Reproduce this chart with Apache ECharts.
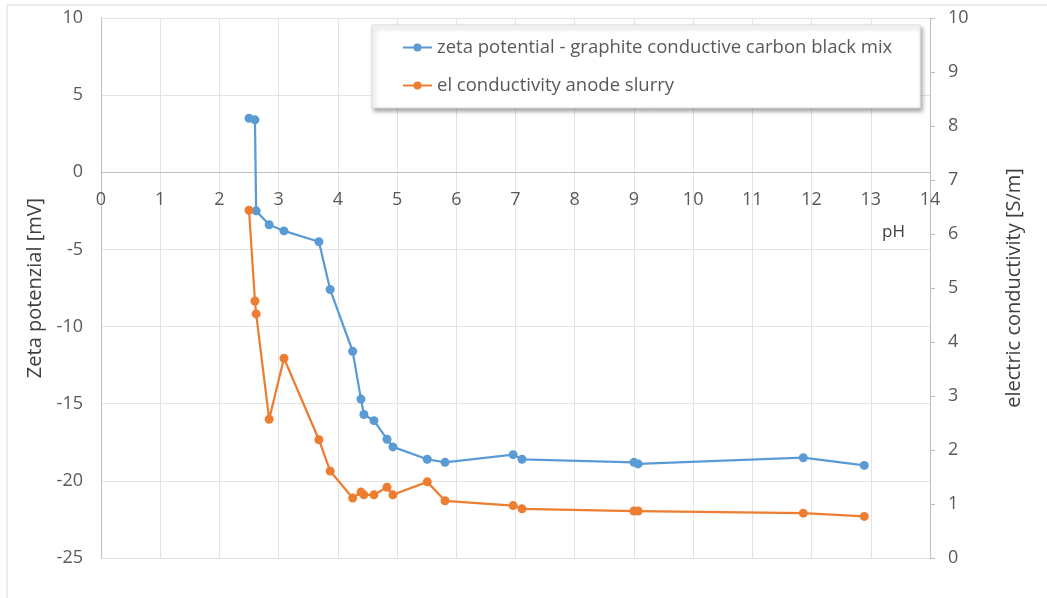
<!DOCTYPE html>
<html lang="en">
<head>
  <meta charset="UTF-8">
  <title>Zeta potential and conductivity vs pH</title>
  <script src="https://cdn.jsdelivr.net/npm/echarts@6/dist/echarts.min.js"></script>
  <style>
    html, body { margin: 0; padding: 0; background: #fff; }
    #chart { width: 1047px; height: 598px; }
  </style>
</head>
<body>
  <div id="chart"></div>
  <script>
    // pH values (shared by both series)
    const pH = [2.50, 2.60, 2.62, 2.84, 3.09, 3.68, 3.87, 4.25, 4.39, 4.44, 4.61,
                4.83, 4.93, 5.51, 5.81, 6.96, 7.11, 9.00, 9.07, 11.86, 12.89];
    // zeta potential [mV]
    const zeta = [3.5, 3.4, -2.5, -3.4, -3.8, -4.5, -7.6, -11.6, -14.7, -15.7, -16.1,
                  -17.3, -17.8, -18.6, -18.8, -18.3, -18.6, -18.8, -18.9, -18.5, -19.0];
    // electric conductivity [S/m]
    const cond = [6.44, 4.76, 4.52, 2.57, 3.70, 2.19, 1.61, 1.11, 1.22, 1.17, 1.17,
                  1.31, 1.17, 1.41, 1.06, 0.97, 0.91, 0.87, 0.87, 0.83, 0.77];

    const seriesNames = ['zeta potential - graphite conductive carbon black mix',
                         'el conductivity anode slurry'];
    const colors = ['#5B9BD5', '#ED7D31'];
    const font = 'Open Sans, sans-serif';

    const chart = echarts.init(document.getElementById('chart'));

    const option = {
      animation: false,
      textStyle: { fontFamily: font },
      graphic: [{
        type: 'rect',
        shape: { x: 7, y: 5, width: 1060, height: 620 },
        style: { fill: 'none', stroke: '#d9d9d9', lineWidth: 1 },
        silent: true
      }],
      grid: { left: 101, right: 117, top: 18, bottom: 40 },
      legend: {
        orient: 'vertical',
        left: 372,
        top: 25,
        padding: [13, 28, 13, 30],
        itemGap: 19,
        itemWidth: 29,
        itemHeight: 10,
        backgroundColor: '#fff',
        borderColor: '#d9d9d9',
        borderWidth: 1,
        shadowBlur: 4,
        shadowColor: 'rgba(0,0,0,0.35)',
        shadowOffsetX: 2,
        shadowOffsetY: 3,
        textStyle: { fontSize: 18.5, color: '#595959', fontFamily: font },
        data: seriesNames
      },
      xAxis: {
        type: 'value',
        min: 0, max: 14, interval: 1,
        offset: -386,
        name: 'pH',
        nameLocation: 'end',
        nameGap: -48,
        nameTextStyle: { fontSize: 17, color: '#404040', verticalAlign: 'top', padding: [52, 0, 0, 0] },
        axisLine: { onZero: false, lineStyle: { color: '#bfbfbf' } },
        axisTick: { show: false },
        axisLabel: { fontSize: 18, color: '#595959', margin: 19 },
        splitLine: { show: true, lineStyle: { color: '#e3e3e3' } }
      },
      yAxis: [{
        type: 'value',
        min: -25, max: 10, interval: 5,
        name: 'Zeta potenzial [mV]',
        nameLocation: 'middle',
        nameGap: 55,
        nameRotate: 90,
        nameTextStyle: { fontSize: 20, color: '#404040' },
        axisLine: { show: true, lineStyle: { color: '#bfbfbf' } },
        axisTick: { show: false },
        axisLabel: { fontSize: 18, color: '#595959', margin: 18 },
        splitLine: { show: true, lineStyle: { color: '#e3e3e3' } }
      }, {
        type: 'value',
        position: 'right',
        min: 0, max: 10, interval: 1,
        name: 'electric conductivity [S/m]',
        nameLocation: 'middle',
        nameGap: 74,
        nameRotate: 90,
        nameTextStyle: { fontSize: 20, color: '#404040' },
        axisLine: { show: true, lineStyle: { color: '#bfbfbf' } },
        axisTick: { show: true, length: 5, lineStyle: { color: '#bfbfbf' } },
        axisLabel: { fontSize: 18, color: '#595959', margin: 18 },
        splitLine: { show: false }
      }],
      series: [{
        name: seriesNames[0],
        type: 'line',
        yAxisIndex: 0,
        data: pH.map((x, i) => [x, zeta[i]]),
        symbol: 'circle',
        symbolSize: 9,
        color: colors[0],
        lineStyle: { width: 2.25, color: colors[0] },
        itemStyle: { color: colors[0] }
      }, {
        name: seriesNames[1],
        type: 'line',
        yAxisIndex: 1,
        data: pH.map((x, i) => [x, cond[i]]),
        symbol: 'circle',
        symbolSize: 9,
        color: colors[1],
        lineStyle: { width: 2.25, color: colors[1] },
        itemStyle: { color: colors[1] }
      }]
    };

    chart.setOption(option);
  </script>
</body>
</html>
